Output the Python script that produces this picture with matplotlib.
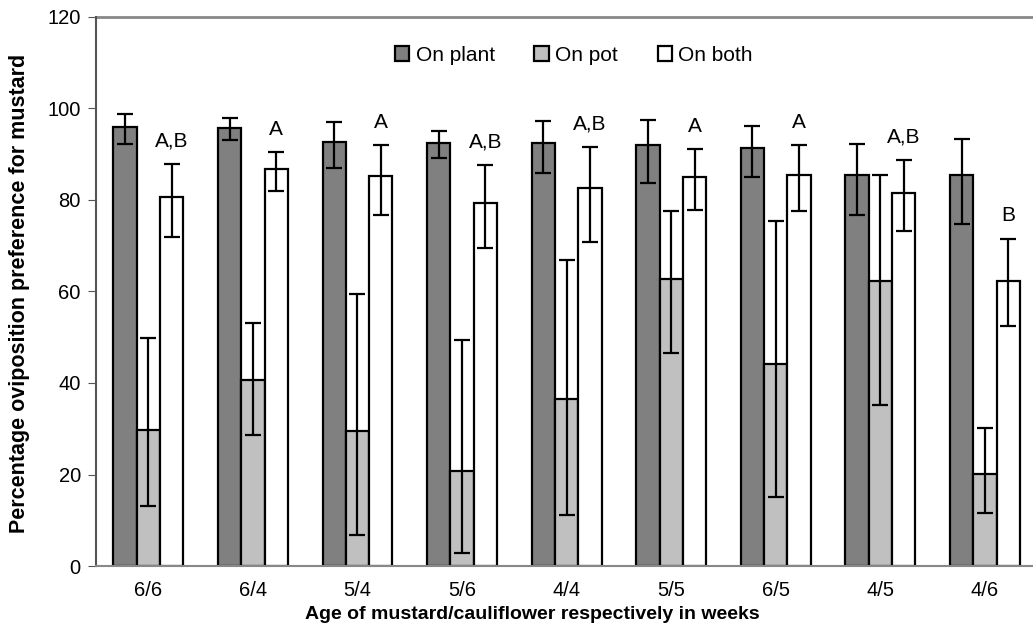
import numpy as np
import matplotlib.pyplot as plt

plt.rcParams['font.family'] = ['Liberation Sans', 'DejaVu Sans']

ages = ['6/6', '6/4', '5/4', '5/6', '4/4', '5/5', '6/5', '4/5', '4/6']

# bar heights
plant = [96.0, 95.8, 92.7, 92.5, 92.5, 91.9, 91.4, 85.4, 85.4]
pot = [29.7, 40.7, 29.5, 20.8, 36.4, 62.7, 44.1, 62.2, 20.2]
both = [80.6, 86.7, 85.2, 79.3, 82.6, 84.9, 85.5, 81.6, 62.3]

# error bar ends (low, high)
plant_lo = [92.2, 93.1, 87.0, 89.2, 85.8, 83.6, 84.9, 76.8, 74.7]
plant_hi = [98.8, 97.9, 97.0, 95.1, 97.2, 97.4, 96.2, 92.3, 93.3]
pot_lo = [13.2, 28.7, 6.8, 2.8, 11.1, 46.5, 15.1, 35.2, 11.7]
pot_hi = [49.9, 53.2, 59.5, 49.3, 66.8, 77.5, 75.4, 85.4, 30.2]
both_lo = [71.8, 82.0, 76.7, 69.4, 70.8, 77.7, 77.5, 73.1, 52.5]
both_hi = [87.9, 90.4, 92.0, 87.7, 91.6, 91.0, 92.0, 88.7, 71.5]

letters = ['A,B', 'A', 'A', 'A,B', 'A,B', 'A', 'A', 'A,B', 'B']

fig = plt.figure(figsize=(10.33, 6.44), dpi=100)
ax = fig.add_axes([0.093, 0.121, 0.907, 0.853])

x = np.arange(len(ages))
w = 0.223

series = [(plant, plant_lo, plant_hi, '#808080', 'On plant'),
          (pot, pot_lo, pot_hi, '#c0c0c0', 'On pot'),
          (both, both_lo, both_hi, '#ffffff', 'On both')]

for i, (vals, lo, hi, col, lab) in enumerate(series):
    xs = x + (i - 1) * w
    vals = np.array(vals)
    yerr = [vals - np.array(lo), np.array(hi) - vals]
    ax.bar(xs, vals, w, color=col, edgecolor='black', linewidth=1.6, label=lab, zorder=2)
    ax.errorbar(xs, vals, yerr=yerr, fmt='none', ecolor='black', elinewidth=1.6,
                capsize=6, capthick=1.6, zorder=3)

# letters above the "on both" bars
for xi, h, t in zip(x, both_hi, letters):
    ax.text(xi + w, h + 2.9, t, ha='center', va='bottom', fontsize=15)

ax.set_ylim(0, 120)
ax.set_xlim(-0.5, 8.46)
ax.set_yticks(range(0, 121, 20))
ax.set_xticks(x)
ax.set_xticklabels(ages)
ax.tick_params(axis='x', length=0, labelsize=14.5, pad=11)
ax.tick_params(axis='y', length=6, labelsize=14.5, color='#555555', direction='out', pad=5)
ax.axhline(120, color='#888888', lw=2, zorder=1, clip_on=False)

ax.spines['right'].set_visible(False)
ax.spines['top'].set_visible(False)
ax.spines['left'].set_color('#555555')
ax.spines['left'].set_linewidth(1.5)
ax.spines['bottom'].set_color('#888888')
ax.spines['bottom'].set_linewidth(1.5)

ax.set_xlabel('Age of mustard/cauliflower respectively in weeks', fontsize=14,
              fontweight='bold')
ax.xaxis.set_label_coords(0.466, -0.072)
ax.set_ylabel('Percentage oviposition preference for mustard', fontsize=15.5,
              fontweight='bold')
ax.yaxis.set_label_coords(-0.070, 0.497)

ax.legend(loc='center', bbox_to_anchor=(0.51, 0.930), ncol=3, frameon=False,
          fontsize=15, handlelength=0.7, handleheight=0.7, handletextpad=0.3,
          columnspacing=1.9)

fig.savefig('out.png', dpi=100)
